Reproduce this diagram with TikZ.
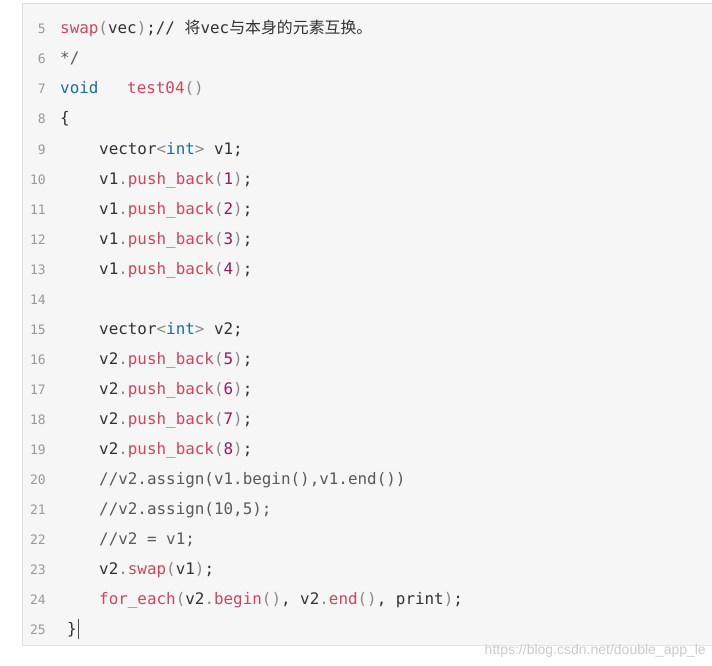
\documentclass[tikz,border=0pt]{standalone}
\usepackage{fontspec}
\setmonofont{DejaVu Sans Mono}
\newfontfamily\cjk{Noto Sans CJK SC}
\newfontfamily\wm{Liberation Sans}
\definecolor{bgp}{HTML}{F6F6F7}
\definecolor{fn}{HTML}{D0465E}
\definecolor{kw}{HTML}{1A6FA0}
\definecolor{num}{HTML}{8E1E5E}
\definecolor{cm}{HTML}{5A5A5A}
\definecolor{pn}{HTML}{8A8A8A}
\definecolor{ln}{HTML}{999999}
\definecolor{tx}{HTML}{333333}
\newcommand{\F}[1]{\textcolor{fn}{#1}}
\newcommand{\K}[1]{\textcolor{kw}{#1}}
\newcommand{\N}[1]{\textcolor{num}{#1}}
\newcommand{\PP}[1]{\textcolor{pn}{#1}}
\begin{document}
\begin{tikzpicture}[x=1pt,y=-1pt,
  code/.style={anchor=base west,inner sep=0pt,font=\fontsize{15.9}{17}\ttfamily,text=tx},
  lnum/.style={anchor=base east,inner sep=0pt,font=\fontsize{13}{15}\ttfamily,text=ln}]
\useasboundingbox (0,0) rectangle (712,666);
\fill[white] (0,0) rectangle (712,666);
\fill[bgp] (22,3) rectangle (712,645);
\draw[black!12] (22,645) -- (22,3) -- (712,3);
\draw[black!10] (22,645) -- (712,645);
\foreach \n in {5,...,25}{\node[lnum] (l\n) at (46,{34+30*(\n-5)}) {\n};}
\node[code] (c5) at (60,34) {\F{swap}\PP{(}vec\PP{)};// {\cjk 将}vec{\cjk 与本身的元素互换。}};
\node[code] (c6) at (60,64) {\textcolor{cm}{*/}};
\node[code] (c7) at (60,94) {\K{void}\ \ \ \F{test04}\PP{()}};
\node[code] (c8) at (60,124) {\{};
\node[code] (c9) at (99,154) {vector\PP{<}\K{int}\PP{>} v1;};
\node[code] (c10) at (99,184) {v1\PP{.}\F{push\_back}\PP{(}\N{1}\PP{)};};
\node[code] (c11) at (99,214) {v1\PP{.}\F{push\_back}\PP{(}\N{2}\PP{)};};
\node[code] (c12) at (99,244) {v1\PP{.}\F{push\_back}\PP{(}\N{3}\PP{)};};
\node[code] (c13) at (99,274) {v1\PP{.}\F{push\_back}\PP{(}\N{4}\PP{)};};
\node[code] (c15) at (99,334) {vector\PP{<}\K{int}\PP{>} v2;};
\node[code] (c16) at (99,364) {v2\PP{.}\F{push\_back}\PP{(}\N{5}\PP{)};};
\node[code] (c17) at (99,394) {v2\PP{.}\F{push\_back}\PP{(}\N{6}\PP{)};};
\node[code] (c18) at (99,424) {v2\PP{.}\F{push\_back}\PP{(}\N{7}\PP{)};};
\node[code] (c19) at (99,454) {v2\PP{.}\F{push\_back}\PP{(}\N{8}\PP{)};};
\node[code,text=cm] (c20) at (99,484) {//v2.assign(v1.begin(),v1.end())};
\node[code,text=cm] (c21) at (99,514) {//v2.assign(10,5);};
\node[code,text=cm] (c22) at (99,544) {//v2 = v1;};
\node[code] (c23) at (99,574) {v2\PP{.}\F{swap}\PP{(}v1\PP{)};};
\node[code] (c24) at (99,604) {\F{for\_each}\PP{(}v2\PP{.}\F{begin}\PP{()}, v2\PP{.}\F{end}\PP{()}, print\PP{)};};
\node[code] (c25) at (67,634) {\}};
\draw[black!70,line width=0.8pt] (c25.east)++(1,-10) coordinate (cur) -- ++(0,20);
\node[anchor=base east,inner sep=0pt,font=\wm\fontsize{14}{16}\selectfont,text=black!20] (wmk) at (706,654) {https://blog.csdn.net/double\_app\_le};
\end{tikzpicture}
\end{document}
